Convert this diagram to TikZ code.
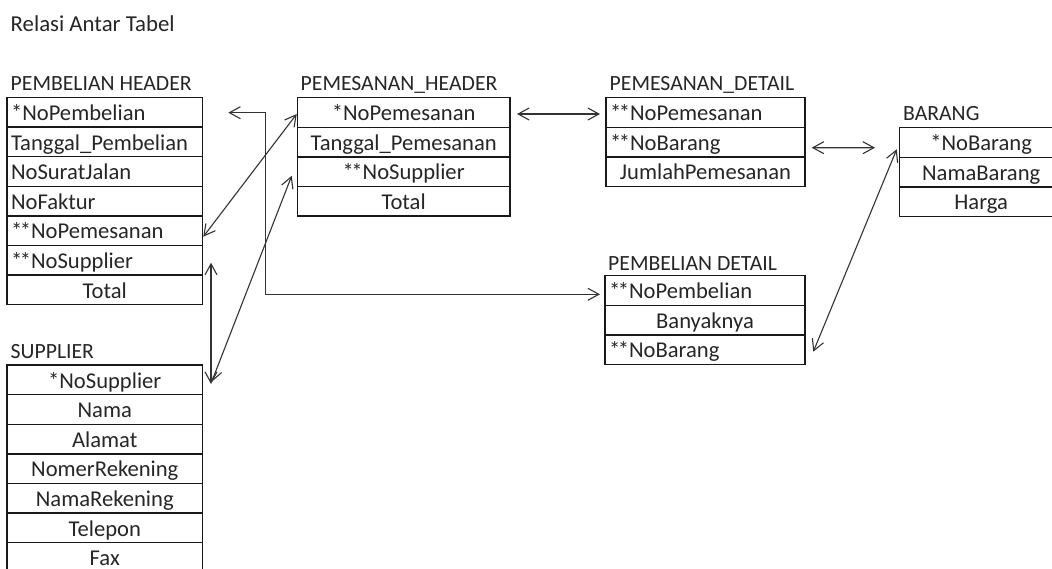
\documentclass[tikz,border=0pt]{standalone}
\usepackage{fontspec}
\setmainfont{Carlito}
\usepackage{tikz}
\usetikzlibrary{calc}
\usetikzlibrary{arrows.meta}
\usetikzlibrary{positioning}
\newcommand{\dstar}{*\kern-2.5pt*}
\tikzset{tname/.style={anchor=base west,inner sep=0pt,text=black!85,font=\fontsize{21.7}{26}\selectfont}}

\begin{document}
\begin{tikzpicture}[x=1pt,y=-1pt]
\tikzstyle{rel} = [{Straight Barb[length=11pt,width=12pt]}-{Straight Barb[length=11pt,width=12pt]}, line width=1.1pt, draw=black!80]
\tikzset{lrow/.style={draw=black!90,line width=1.4pt,text width=#1,align=left,inner xsep=4pt,inner ysep=0pt,outer sep=0pt,minimum height=29.6pt,text height=16.4pt,text depth=0pt,text=black!85,font=\fontsize{22.6}{26}\selectfont}}
\tikzset{crow/.style={lrow=#1,align=center}}
\clip (0,0) rectangle (1052,568);

\node[tname,font=\fontsize{22.8}{26}\selectfont] (caption) at (10.5,31.7) {Relasi Antar Tabel};

% pembelian header
\node[tname] (phT) at (10.5,90.7) {PEMBELIAN HEADER};
\node[lrow=187.5pt,anchor=north west] (ph1) at (7,97.5) {*NoPembelian};
\node[lrow=187.5pt,below=0pt of ph1] (ph2) {Tanggal\_Pembelian};
\node[lrow=187.5pt,below=0pt of ph2] (ph3) {NoSuratJalan};
\node[lrow=187.5pt,below=0pt of ph3] (ph4) {NoFaktur};
\node[lrow=187.5pt,below=0pt of ph4] (ph5) {\dstar NoPemesanan};
\node[lrow=187.5pt,below=0pt of ph5] (ph6) {\dstar NoSupplier};
\node[crow=187.5pt,below=0pt of ph6] (ph7) {Total};

% pemesanan header
\node[tname] (mhT) at (300.5,90.7) {PEMESANAN\_HEADER};
\node[crow=204.7pt,anchor=north west] (mh1) at (297.3,97.7) {*NoPemesanan};
\node[crow=204.7pt,below=0pt of mh1] (mh2) {Tanggal\_Pemesanan};
\node[crow=204.7pt,below=0pt of mh2] (mh3) {\dstar NoSupplier};
\node[crow=204.7pt,below=0pt of mh3] (mh4) {Total};

% pemesanan detail
\node[tname] (mdT) at (609.5,90.7) {PEMESANAN\_DETAIL};
\node[lrow=191pt,anchor=north west] (md1) at (606,97.7) {\dstar NoPemesanan};
\node[lrow=191pt,below=0pt of md1] (md2) {\dstar NoBarang};
\node[crow=191pt,below=0pt of md2] (md3) {JumlahPemesanan};

% barang
\node[tname] (brT) at (903,120.7) {BARANG};
\node[crow=155.7pt,anchor=north west] (br1) at (899.3,127.7) {*NoBarang};
\node[crow=155.7pt,below=0pt of br1] (br2) {NamaBarang};
\node[crow=155.7pt,below=0pt of br2] (br3) {Harga};

% pembelian detail
\node[tname] (pdT) at (608,270) {PEMBELIAN DETAIL};
\node[lrow=192pt,anchor=north west] (pd1) at (605,275.7) {\dstar NoPembelian};
\node[crow=192pt,below=0pt of pd1] (pd2) {Banyaknya};
\node[lrow=192pt,below=0pt of pd2] (pd3) {\dstar NoBarang};

% supplier
\node[tname] (spT) at (10.5,358.3) {SUPPLIER};
\node[crow=187.5pt,anchor=north west] (sp1) at (7,365) {*NoSupplier};
\node[crow=187.5pt,below=0pt of sp1] (sp2) {Nama};
\node[crow=187.5pt,below=0pt of sp2] (sp3) {Alamat};
\node[crow=187.5pt,below=0pt of sp3] (sp4) {NomerRekening};
\node[crow=187.5pt,below=0pt of sp4] (sp5) {NamaRekening};
\node[crow=187.5pt,below=0pt of sp5] (sp6) {Telepon};
\node[crow=187.5pt,below=0pt of sp6] (sp7) {Fax};

% relasi
\draw[rel] ($(mh1.east)+(7,1.5)$) -- ($(md1.west)+(-6,1.5)$);
\draw[rel] ($(md2.east)+(6.7,5.6)$) -- ($(br1.west)+(-24.3,5.2)$);
\draw[rel] ($(pd3.east)+(8.3,2)$) -- ($(br1.west)+(-2.6,6.8)$);
\coordinate (kink) at (265.7,0);
\coordinate (phOut) at ($(ph1.east)+(25.8,0.4)$);
\coordinate (pdIn) at ($(pd1.west)+(-5,3.8)$);
\draw[rel] (phOut) -- (kink |- phOut) -- (kink |- pdIn) -- (pdIn);
\draw[rel] ($(ph5.east)+(0.8,6)$) -- ($(mh1.west)+(-0.6,1.5)$);
\draw[rel] ($(ph6.east)+(8.5,2.4)$) -- ($(sp1.east)+(8.5,4.2)$);
\draw[rel] ($(mh3.west)+(-5.6,4.1)$) -- ($(sp1.east)+(9.2,1.9)$);
\end{tikzpicture}
\end{document}
